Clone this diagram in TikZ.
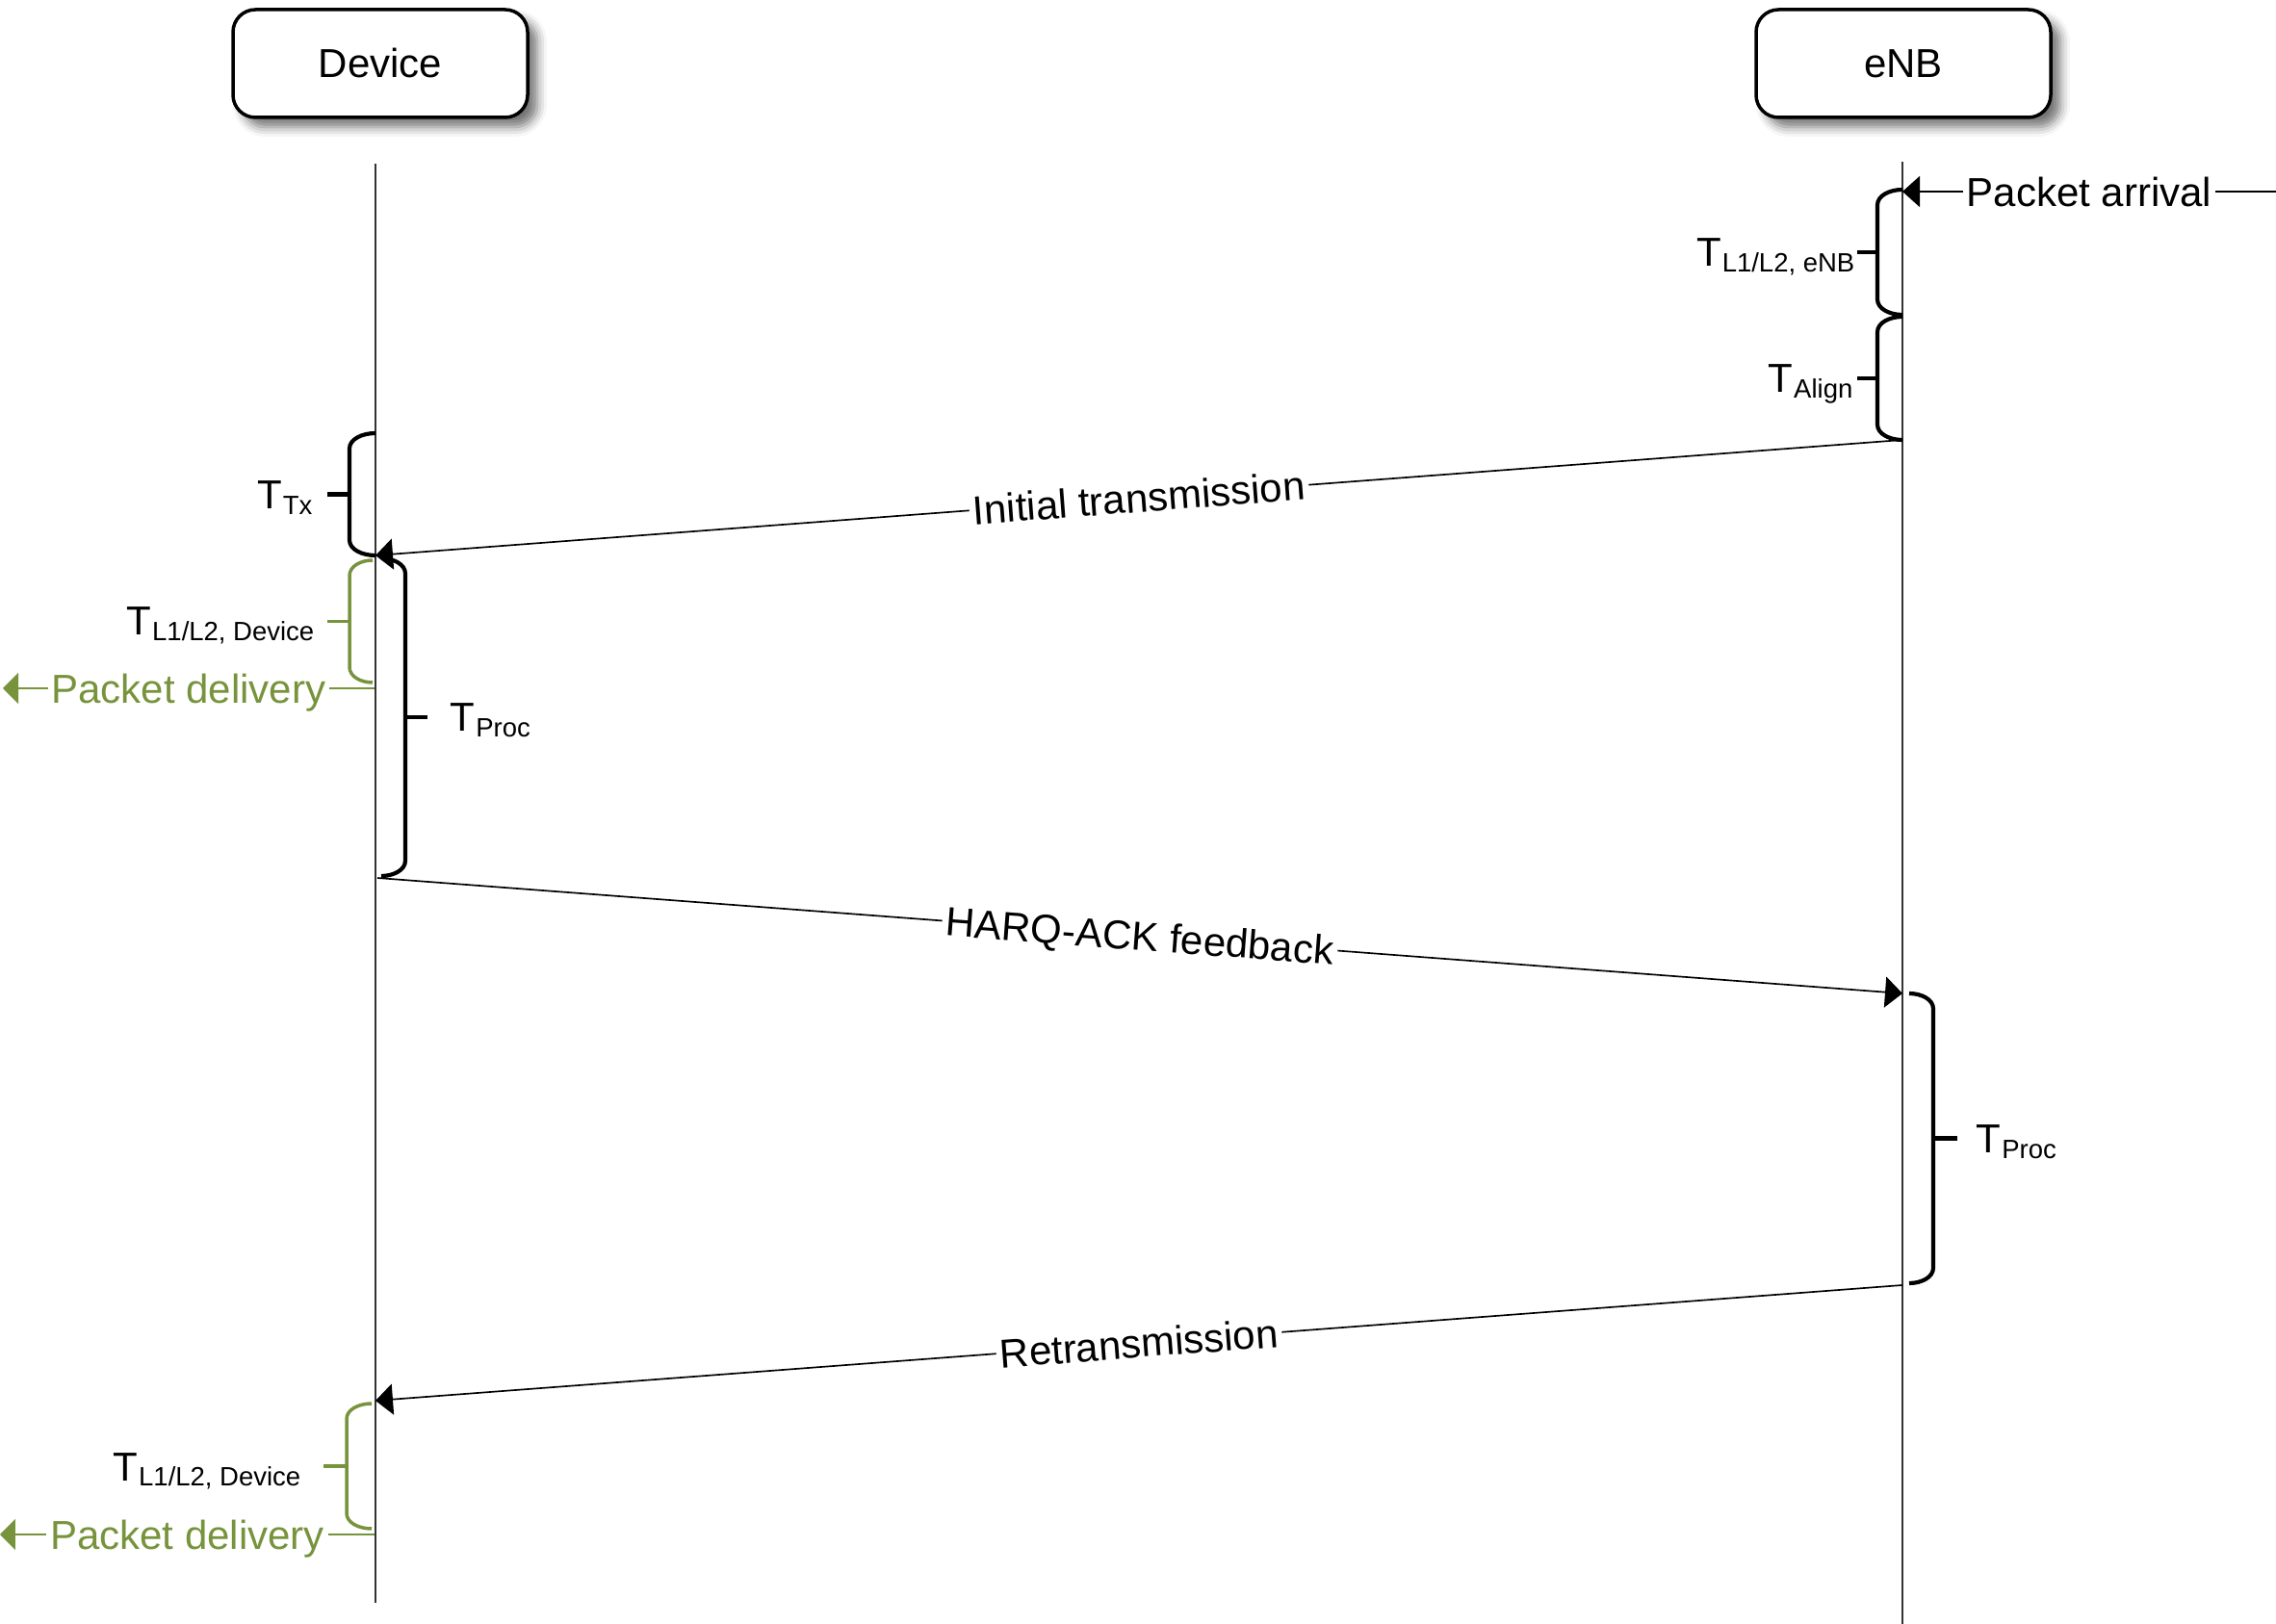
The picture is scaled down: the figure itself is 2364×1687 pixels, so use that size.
\documentclass[tikz,border=0pt]{standalone}
\usepackage{fontspec}
\setmainfont{Liberation Sans}
\usetikzlibrary{arrows.meta,shadows.blur}
\definecolor{pgreen}{RGB}{119,147,60}
\newcommand\Tsub[1]{T\kern0.3pt\raisebox{-1.6pt}{\fontsize{8.25}{9}\selectfont #1}}
% #1 style, #2 lifeline x, #3 bar x, #4 top y, #5 bottom y, #6 tick end x
\newcommand\tbrace[6]{%
  \draw[#1] (#2,#4) .. controls ({(#2+#3)/2},#4) and (#3,{#4+6}) .. (#3,{#4+16}) -- (#3,{#5-16})
    .. controls (#3,{#5-6}) and ({(#2+#3)/2},#5) .. (#2,#5);
  \draw[#1] (#3,{(#4+#5)/2}) -- (#6,{(#4+#5)/2});}
\tikzset{
  actor/.style={draw=black, line width=1.05pt, rounded corners=7pt, fill=white,
    minimum width=91.8pt, minimum height=33.6pt, font=\fontsize{12.6}{15}\selectfont,
    blur shadow={shadow xshift=3pt, shadow yshift=-3pt, shadow blur radius=3pt, shadow opacity=55}},
  life/.style={draw=black!80, line width=0.45pt},
  msg/.style={draw=black, line width=0.5pt, -{Triangle[length=5.4pt,width=9.6pt]}},
  gmsg/.style={draw=pgreen, line width=0.5pt, -{Triangle[length=4.8pt,width=9.6pt]}},
  brace/.style={draw=black, line width=1.25pt},
  gbrace/.style={draw=pgreen, line width=1.05pt},
  lbl/.style={font=\fontsize{12.6}{15}\selectfont, fill=white, inner xsep=1.2pt, inner ysep=0.5pt, text depth=0pt},
  tlbl/.style={font=\fontsize{12.6}{15}\selectfont, inner sep=0pt},
}
\begin{document}
\begin{tikzpicture}[x=0.3pt,y=-0.3pt]
\useasboundingbox (0,0) rectangle (2364,1687);
% actors
\node[actor] (dev) at (395,66) {Device};
\node[actor] (enb) at (1977,66) {eNB};
% lifelines
\coordinate (dtop) at (390,170); \coordinate (dbot) at (390,1665);
\coordinate (etop) at (1976,168); \coordinate (ebot) at (1976,1687);
\draw[life] (dtop) -- (dbot);
\draw[life] (etop) -- (ebot);
% packet arrival
\coordinate (pa0) at (2364,199); \coordinate (pa1) at (1976,199);
\draw[msg] (pa0) -- node[lbl] (palbl) {Packet arrival} (pa1);
% eNB brackets
\tbrace{brace}{1976}{1950}{197}{327}{1929}
\node[tlbl, anchor=base east] (tenb) at (1927,277) {\Tsub{L1/L2, eNB}};
\tbrace{brace}{1976}{1950}{329}{457}{1929}
\node[tlbl, anchor=base east] (talign) at (1925,408) {\Tsub{Align}};
% initial transmission
\coordinate (i0) at (1976,457); \coordinate (i1) at (390,577);
\draw[msg] (i0) -- node[lbl, sloped] (ilbl) {Initial transmission} (i1);
% device TTx
\tbrace{brace}{390}{363}{450}{577}{340}
\node[tlbl, anchor=base east] (ttx) at (325,529) {\Tsub{Tx}};
% device L1/L2 (green)
\tbrace{gbrace}{387}{363}{582}{709}{340}
\node[tlbl, anchor=base east] (tdev1) at (327,660) {\Tsub{L1/L2, Device}};
\coordinate (pd1s) at (389,715); \coordinate (pd1e) at (3,715);
\draw[gmsg] (pd1s) -- node[lbl, text=pgreen] (pd1) {Packet delivery} (pd1e);
% device TProc
\tbrace{brace}{396}{421}{580}{910}{444}
\node[tlbl, anchor=base west] (tproc1) at (467,760) {\Tsub{Proc}};
% HARQ
\coordinate (h0) at (392,912); \coordinate (h1) at (1976,1032);
\draw[msg] (h0) -- node[lbl, sloped] (hlbl) {HARQ-ACK feedback} (h1);
% eNB TProc
\tbrace{brace}{1983}{2008}{1032}{1333}{2033}
\node[tlbl, anchor=base west] (tproc2) at (2052,1198) {\Tsub{Proc}};
% retransmission
\coordinate (r0) at (1976,1335); \coordinate (r1) at (390,1455);
\draw[msg] (r0) -- node[lbl, sloped] (rlbl) {Retransmission} (r1);
% device L1/L2 lower (green)
\tbrace{gbrace}{386}{360}{1458}{1588}{336}
\node[tlbl, anchor=base east] (tdev2) at (313,1538) {\Tsub{L1/L2, Device}};
\coordinate (pd2s) at (389,1594); \coordinate (pd2e) at (0,1594);
\draw[gmsg] (pd2s) -- node[lbl, text=pgreen] (pd2) {Packet delivery} (pd2e);
\end{tikzpicture}
\end{document}
